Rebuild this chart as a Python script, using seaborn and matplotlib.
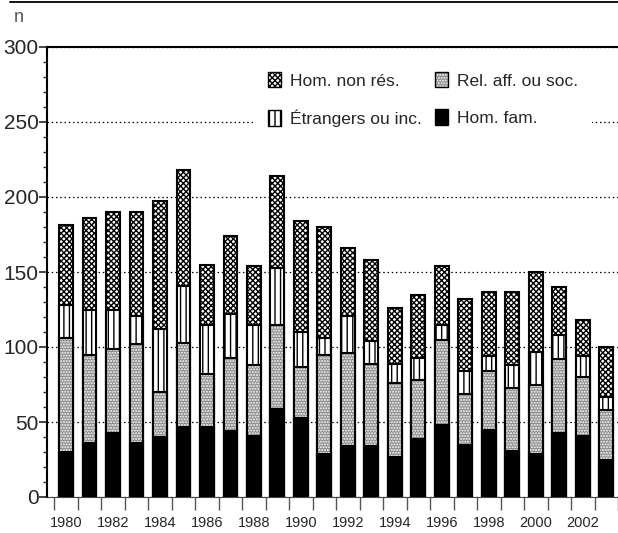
import numpy as np
import pandas as pd
import matplotlib
matplotlib.use("Agg")
import matplotlib.pyplot as plt
import seaborn as sns
from matplotlib.patches import Patch
from matplotlib.lines import Line2D

years = [str(y) for y in range(1980, 2004)]
hom_fam = [30, 36, 43, 36, 40, 47, 47, 44, 41, 59, 53, 29, 34, 34, 27, 39, 48, 35, 45, 31, 29, 43, 41, 25]
rel_aff = [76, 59, 56, 66, 30, 56, 35, 49, 47, 56, 34, 66, 62, 55, 49, 39, 57, 34, 39, 42, 46, 49, 39, 33]
etrangers = [22, 30, 26, 19, 42, 38, 33, 29, 27, 38, 23, 11, 25, 15, 13, 15, 10, 15, 10, 15, 22, 16, 14, 9]
hom_non_res = [53, 61, 65, 69, 85, 77, 40, 52, 39, 61, 74, 74, 45, 54, 37, 42, 39, 48, 43, 49, 53, 32, 24, 33]
labels = ["Hom. non rés.", "Étrangers ou inc.", "Rel. aff. ou soc.", "Hom. fam."]
yticks = [0, 50, 100, 150, 200, 250, 300]
xlabel_years = [str(y) for y in range(1980, 2004, 2)]

sns.set_style("white")
plt.rcParams['font.family'] = ['Liberation Sans', 'DejaVu Sans']
plt.rcParams['hatch.linewidth'] = 1.0

c1 = np.array(hom_fam)
c2 = c1 + np.array(rel_aff)
c3 = c2 + np.array(etrangers)
c4 = c3 + np.array(hom_non_res)

df = pd.DataFrame({"year": years, "c1": c1, "c2": c2, "c3": c3, "c4": c4})

styles = {
    "c4": dict(face="white", hatchc="black", hatch="xxxxxx"),
    "c3": dict(face="white", hatchc="black", hatch="|||"),
    "c2": dict(face="#8a8a8a", hatchc="white", hatch="......"),
    "c1": dict(face="black", hatchc="black", hatch=None),
}

fig = plt.figure(figsize=(6.18, 5.33), dpi=100)
ax = fig.add_axes([47/618, 36/533, 1 - 47/618, 450/533])

W = 0.59
for col in ["c4", "c3", "c2", "c1"]:
    st = styles[col]
    n0 = len(ax.patches)
    sns.barplot(data=df, x="year", y=col, ax=ax, color=st["face"], width=W,
                saturation=1, errorbar=None, linewidth=0)
    for p in ax.patches[n0:]:
        p.set_facecolor(st["face"])
        p.set_edgecolor(st["hatchc"])
        p.set_linewidth(0)
        if st["hatch"]:
            p.set_hatch(st["hatch"])
        p.set_zorder(3)
    n1 = len(ax.patches)
    sns.barplot(data=df, x="year", y=col, ax=ax, color="black", width=W,
                fill=False, errorbar=None, linewidth=1.5)
    for p in ax.patches[n1:]:
        p.set_zorder(3)

ax.set_xlim(-0.81, 23.23)
ax.set_ylim(0, 300)
ax.set_xlabel("")
ax.set_ylabel("")

ax.set_yticks(yticks)
ax.set_yticklabels([str(v) for v in yticks], fontsize=15)
ax.set_yticks(range(0, 301, 10), minor=True)
ax.tick_params(axis='y', which='major', direction='out', length=5.5, width=1.2, pad=0.5, left=True)
ax.tick_params(axis='y', which='minor', direction='out', length=3, width=1.0, left=True)

ax.set_xticks(np.arange(-0.5, 24, 1))
ax.set_xticklabels([""] * 25)
ax.set_xticks(np.arange(0, 24, 2), minor=True)
ax.set_xticklabels(xlabel_years, minor=True, fontsize=10.5)
ax.tick_params(axis='x', which='major', direction='out', length=9.5, width=1.0, color='#555555', bottom=True)
ax.tick_params(axis='x', which='minor', length=0, pad=14, bottom=True)

ax.yaxis.grid(True, linestyle=(0, (1.2, 2.2)), color='black', linewidth=0.9)
ax.set_axisbelow(True)

for s in ["left", "top"]:
    ax.spines[s].set_visible(True)
    ax.spines[s].set_color("black")
    ax.spines[s].set_linewidth(1.5)
ax.spines["bottom"].set_color("#444444")
ax.spines["bottom"].set_linewidth(0.8)
ax.spines["right"].set_visible(False)

def handle(col):
    st = styles[col]
    fill = Patch(facecolor=st["face"], edgecolor=st["hatchc"], hatch=st["hatch"], linewidth=0)
    outline = Patch(fill=False, edgecolor="black", linewidth=1.0)
    return (fill, outline)

handles = [handle("c4"), handle("c3"), handle("c2"), handle("c1")]
leg = ax.legend(handles, labels, ncol=2, loc="upper left",
                bbox_to_anchor=((254 - 47) / 571, (497 - 58) / 450),
                fontsize=12.5, frameon=True, framealpha=1, facecolor="white",
                edgecolor="none", borderpad=0.8, handlelength=0.75, handleheight=1.0,
                handletextpad=0.5, columnspacing=0.8, labelspacing=1.2,
                borderaxespad=0, fancybox=False)
leg.set_zorder(5)

fig.text(14/618, 1 - 18/533, "n", color="#555555", fontsize=13, va="center", ha="left")
fig.add_artist(Line2D([10/618, 1], [1 - 2/533, 1 - 2/533], color="black", linewidth=1.3,
                      transform=fig.transFigure))

fig.savefig("out.png", dpi=100)
